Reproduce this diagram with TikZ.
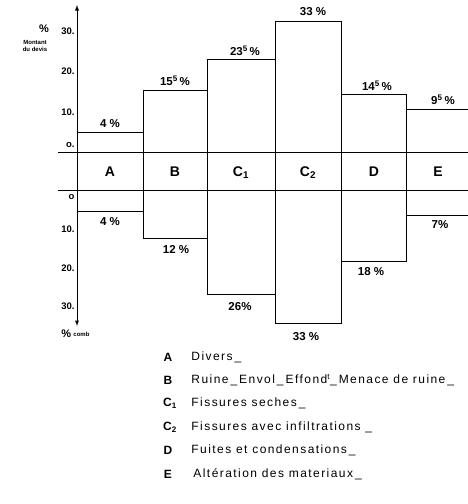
\documentclass[tikz,border=0pt]{standalone}
\usepackage{fontspec}
\setmainfont{Liberation Sans}
\usepackage{tikz}

\begin{document}
\begin{tikzpicture}[x=1pt,y=-1pt,line width=0.9pt,
    every node/.style={inner sep=1pt},
    val/.style={font=\bfseries\fontsize{11.5}{13}\selectfont},
    tick/.style={font=\bfseries\fontsize{9.5}{10}\selectfont,anchor=east},
    band/.style={font=\bfseries\fontsize{14}{16}\selectfont},
    key/.style={font=\bfseries\fontsize{12}{13}\selectfont},
    keytext/.style={font=\fontsize{12}{13}\selectfont\addfontfeature{LetterSpace=12},anchor=west}]
        \useasboundingbox (0,0) rectangle (468,504);
        % axes
        \draw[-latex] (77,152) -- (77,5);
        \draw[-latex] (77,190) -- (77,326);
        \node[tick] (t30) at (76,31) {30.};
        \node[tick] (t20) at (76,71) {20.};
        \node[tick] (t10) at (76,112) {10.};
        \node[tick] (t0) at (76,145) {o.};
        \node[tick] (b0) at (76,197) {o};
        \node[tick] (b10) at (76,229) {10.};
        \node[tick] (b20) at (76,268) {20.};
        \node[tick] (b30) at (76,306) {30.};
        \node[font=\bfseries\fontsize{11}{12}\selectfont] (pcup) at (44,29) {\%};
        \node[font=\bfseries\fontsize{6}{6.5}\selectfont,align=center] (devis) at (35,46) {Montant\\du devis};
        \node[font=\bfseries\fontsize{11}{12}\selectfont,anchor=west] (pcdn) at (60,334) {\%};
        \node[font=\bfseries\fontsize{6}{7}\selectfont,anchor=west] (comb) at (72,334) {comb};
        % band
        \draw (58,152) -- (468,152);
        \draw (58,190) -- (468,190);
        % bars
        \draw (77,132) rectangle (143,211); % A
        \draw (143,90) rectangle (207,238); % B
        \draw (207,59) rectangle (275,294); % C1
        \draw (275,21) rectangle (341,323); % C2
        \draw (341,94) rectangle (406,261); % D
        \draw (468,109) -- (406,109) -- (406,215) -- (468,215); % E
        % letters
        \node[band] (bA) at (110,172) {A};
        \node[band] (bB) at (175,172) {B};
        \node[band] (bC1) at (241,173) {C\textsubscript{1}};
        \node[band] (bC2) at (308,173) {C\textsubscript{2}};
        \node[band] (bD) at (374,172) {D};
        \node[band] (bE) at (438,172) {E};
        % values
        \node[val] (vA) at (110,124) {4 \%};
        \node[val] (vB) at (175,81) {15\textsuperscript{5}\,\%};
        \node[val] (vC1) at (245,51) {23\textsuperscript{5}\,\%};
        \node[val] (vC2) at (313,12) {33 \%};
        \node[val] (vD) at (377,86) {14\textsuperscript{5}\,\%};
        \node[val] (vE) at (443,100) {9\textsuperscript{5}\,\%};
        \node[val] (wA) at (110,222) {4 \%};
        \node[val] (wB) at (176,250) {12 \%};
        \node[val] (wC1) at (240,307) {26\%};
        \node[val] (wC2) at (306,337) {33 \%};
        \node[val] (wD) at (371,272) {18 \%};
        \node[val] (wE) at (440,225) {7\%};
        % legend
        \node[key] (kA) at (168,357) {A};
        \node[key] (kB) at (168,380) {B};
        \node[key] (kC1) at (170,403) {C\textsubscript{1}};
        \node[key] (kC2) at (170,427) {C\textsubscript{2}};
        \node[key] (kD) at (168,450) {D};
        \node[key] (kE) at (168,474) {E};
        \node[keytext] (xA) at (190,357) {Divers\,\_};
        \node[keytext] (xB) at (190,380) {Ruine\,\_\,Envol\,\_\,Effond\textsuperscript{t}\_\,Menace de ruine\,\_};
        \node[keytext] (xC1) at (190,403) {Fissures seches\,\_};
        \node[keytext] (xC2) at (190,427) {Fissures avec infiltrations \_};
        \node[keytext] (xD) at (190,450) {Fuites et condensations\,\_};
        \node[keytext] (xE) at (192,474) {Altération des materiaux\,\_};
\end{tikzpicture}
\end{document}
